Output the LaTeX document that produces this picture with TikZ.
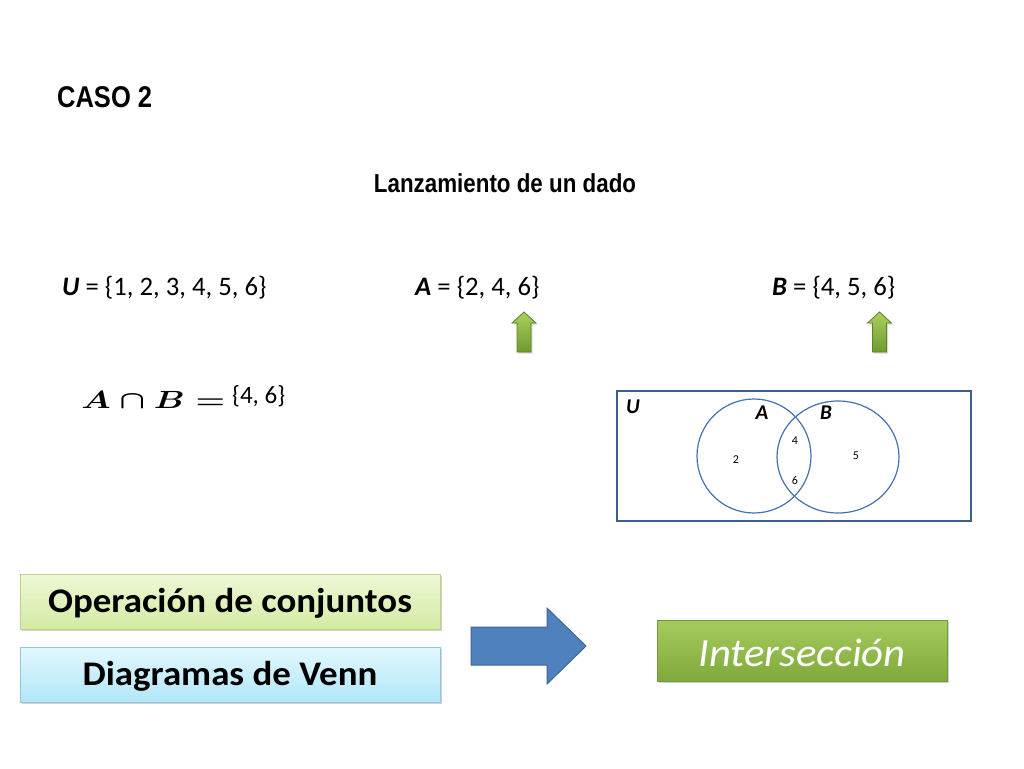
\documentclass[tikz,border=0pt]{standalone}
\usepackage{fontspec}
\setmainfont{Carlito}
\newfontfamily\arialf{Liberation Sans}
\usetikzlibrary{shadows}
\definecolor{vennblue}{HTML}{4672AC}
\definecolor{rectblue}{HTML}{3B5E91}
\definecolor{arrowblue}{HTML}{4F81BD}
\definecolor{arrowedge}{HTML}{3A6699}
\definecolor{opTop}{HTML}{EEF8D6}
\definecolor{opBot}{HTML}{D3EBA3}
\definecolor{opEdge}{HTML}{B9D38A}
\definecolor{dvTop}{HTML}{E3F7FD}
\definecolor{dvBot}{HTML}{B0E7F8}
\definecolor{dvEdge}{HTML}{93C6DA}
\definecolor{inTop}{HTML}{A5CB5E}
\definecolor{inBot}{HTML}{7FA93A}
\definecolor{inEdge}{HTML}{76963C}
\definecolor{upTop}{HTML}{A9D15C}
\definecolor{upBot}{HTML}{6F9A2E}
\definecolor{upEdge}{HTML}{5E7F2C}
\tikzset{
  heading/.style={font=\arialf\bfseries, anchor=west, inner sep=0},
  setlbl/.style={font=\fontsize{26.7}{30}\selectfont, anchor=west, inner sep=0},
  venntxt/.style={font=\fontsize{12}{14}\selectfont, inner sep=0},
  vennset/.style={font=\fontsize{21}{23}\selectfont\bfseries\itshape, inner sep=0},
  softshadow/.style={drop shadow={shadow xshift=1.5pt, shadow yshift=-2pt, opacity=0.35}},
  boxstyle/.style={draw=#1, line width=1pt, softshadow, inner sep=0},
  uparrowstyle/.style={draw=upEdge, line width=0.8pt, top color=upTop, bottom color=upBot,
     drop shadow={shadow xshift=1.5pt, shadow yshift=-1.5pt, opacity=0.3}}
}
\begin{document}
\begin{tikzpicture}[x=1pt,y=-1pt]
\useasboundingbox (0,0) rectangle (1024,768);
\fill[white] (0,0) rectangle (1024,768);
% headings
\node[heading, font=\arialf\bfseries\fontsize{30}{34}\selectfont, xscale=0.85] (caso) at (57,97) {CASO 2};
\node[heading, anchor=center, font=\arialf\bfseries\fontsize{26}{30}\selectfont, xscale=0.86] (lanz) at (505,183) {Lanzamiento de un dado};
% sets
\node[setlbl] (setU) at (62,288) {\textbf{\textit{U}} = \{1, 2, 3, 4, 5, 6\}};
\node[setlbl] (setA) at (415,288) {\textbf{\textit{A}} = \{2, 4, 6\}};
\node[setlbl] (setB) at (772,288) {\textbf{\textit{B}} = \{4, 5, 6\}};
% up arrows
\foreach \nm/\cx in {arrA/524, arrB/879.5}{
  \path[uparrowstyle] (\cx-7,352) -- (\cx-7,323) -- (\cx-12,323) -- (\cx,312) -- (\cx+12,323) -- (\cx+7,323) -- (\cx+7,352) -- cycle;
  \coordinate (\nm) at (\cx,332);
}
% intersection formula
\node[inner sep=0, anchor=west, font=\fontsize{32}{34}\selectfont\boldmath, xscale=1.36] (formula) at (81,400) {$A\cap B =$};
\node[inner sep=0, anchor=west, font=\fontsize{25}{27}\selectfont] (res) at (232,396) {\{4, 6\}};
% Venn
\draw[rectblue, line width=2.6pt] (617,391) rectangle (971,521);
\draw[vennblue, line width=1.2pt] (754,456) ellipse [x radius=57, y radius=57];
\draw[vennblue, line width=1.2pt] (838,457) ellipse [x radius=61, y radius=56];
\node[vennset] (lU) at (633,407) {U};
\node[vennset] (lA) at (762,413) {A};
\node[vennset] (lB) at (826,413) {B};
\node[venntxt] (n4) at (795,441) {4};
\node[venntxt] (n2) at (736,460) {2};
\node[venntxt] (n5) at (856,456) {5};
\node[venntxt] (n6) at (795,480) {6};
% bottom boxes
\node[boxstyle=opEdge, top color=opTop, bottom color=opBot,
      minimum width=420pt, minimum height=55pt] (op) at (230,601.5) {};
\node[font=\fontsize{34.5}{38}\selectfont\bfseries, xscale=1.07, inner sep=0] (opt) at ([yshift=-2pt]op.center) {Operación de conjuntos};
\node[boxstyle=dvEdge, top color=dvTop, bottom color=dvBot,
      minimum width=420pt, minimum height=55pt] (dv) at (230,674.5) {};
\node[font=\fontsize{34.5}{38}\selectfont\bfseries, xscale=1.07, inner sep=0] (dvt) at ([yshift=-2pt]dv.center) {Diagramas de Venn};
\path[draw=arrowedge, fill=arrowblue, line width=1pt]
  (471,627) -- (547,627) -- (547,608) -- (586,646) -- (547,684) -- (547,665) -- (471,665) -- cycle;
\coordinate (bigarr) at (528,646);
\node[boxstyle=inEdge, top color=inTop, bottom color=inBot,
      minimum width=290pt, minimum height=61pt] (inter) at (802,650.5) {};
\node[font=\fontsize{40}{44}\selectfont\itshape, text=white, xscale=1.07, inner sep=0] (intert) at ([yshift=-2pt]inter.center) {Intersección};
\end{tikzpicture}
\end{document}
